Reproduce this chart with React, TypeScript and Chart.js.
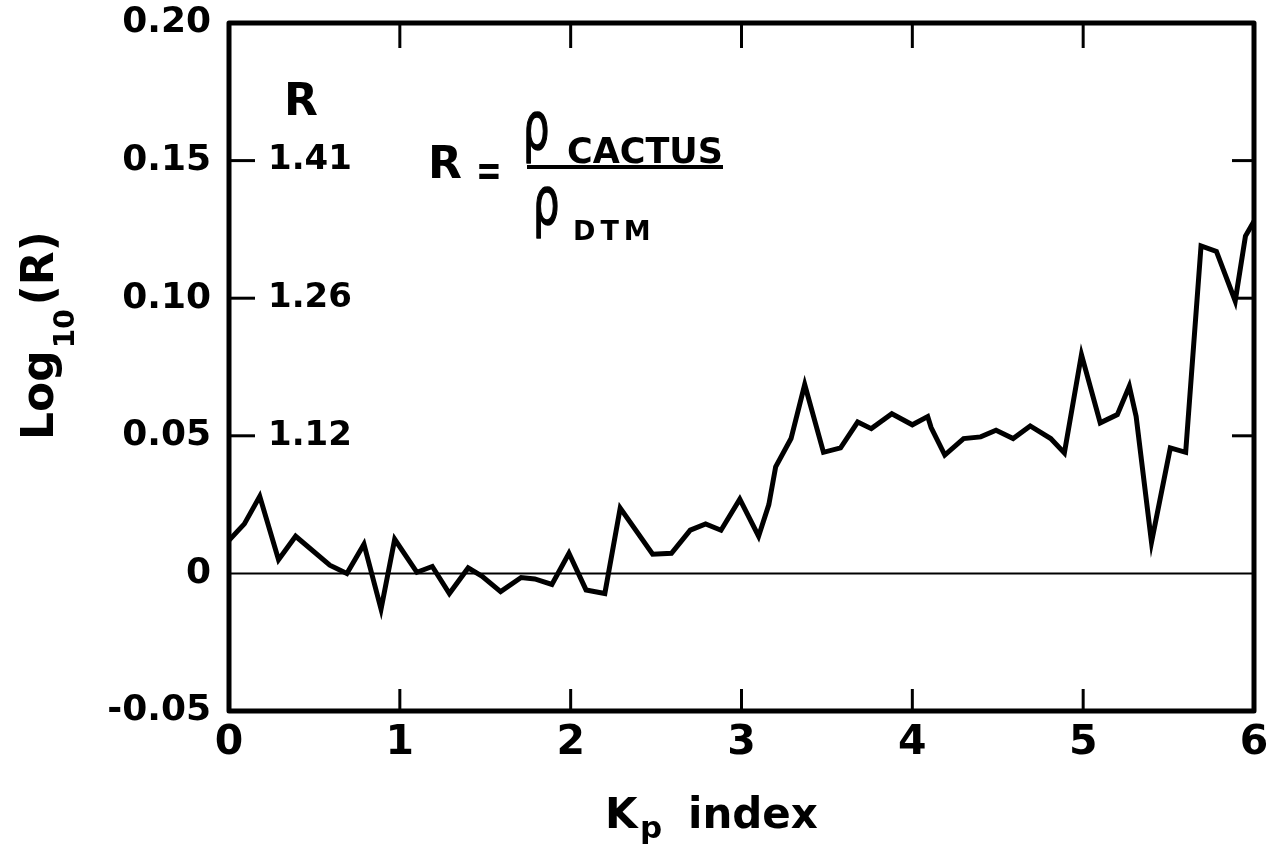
import React, { useEffect, useRef } from "react";
import { Chart, registerables } from "chart.js";

Chart.register(...registerables);

// ---- Data ----
const kpIndex = [
  0.0, 0.09, 0.18, 0.29, 0.39, 0.59, 0.69, 0.79, 0.89, 0.97,
  1.1, 1.19, 1.29, 1.4, 1.48, 1.59, 1.71, 1.79, 1.89, 1.99,
  2.09, 2.2, 2.29, 2.48, 2.59, 2.7, 2.79, 2.88, 2.99, 3.1,
  3.16, 3.2, 3.29, 3.37, 3.48, 3.58, 3.68, 3.76, 3.88, 4.0,
  4.09, 4.11, 4.19, 4.3, 4.4, 4.49, 4.59, 4.69, 4.81, 4.89,
  4.99, 5.1, 5.2, 5.27, 5.31, 5.4, 5.51, 5.6, 5.69, 5.78,
  5.89, 5.95, 6.0,
];
const logR = [
  0.012, 0.018, 0.028, 0.005, 0.0135, 0.003, 0.0, 0.0106, -0.013, 0.0124,
  0.0004, 0.0025, -0.0073, 0.002, -0.001, -0.0066, -0.0015, -0.002, -0.004, 0.0073,
  -0.006, -0.0073, 0.0237, 0.007, 0.0073, 0.0157, 0.018, 0.0157, 0.027, 0.0135,
  0.025, 0.0387, 0.049, 0.0686, 0.044, 0.0456, 0.055, 0.0526, 0.058, 0.054,
  0.057, 0.053, 0.043, 0.049, 0.0496, 0.052, 0.049, 0.0536, 0.049, 0.0438,
  0.0795, 0.0547, 0.0577, 0.068, 0.057, 0.0113, 0.0456, 0.044, 0.119, 0.117,
  0.099, 0.1226, 0.128,
];
const zeroLineKp = [0, 6];
const zeroLineLog = [0, 0];

const xMin = 0;
const xMax = 6;
const yMin = -0.05;
const yMax = 0.2;
const xStep = 1;
const yStep = 0.05;

const innerXTicks = [1, 2, 3, 4, 5];
const innerYTicks = [0.05, 0.1, 0.15];
const rTickValues = [0.15, 0.1, 0.05];
const rTickLabels = ["1.41", "1.26", "1.12"];

const FONT = '"DejaVu Sans", sans-serif';

function fmtY(v: number): string {
  if (Math.abs(v) < 1e-9) return "0";
  return v.toFixed(2);
}

const decorPlugin = {
  id: "decor",
  afterDraw(chart: any) {
    const { ctx, chartArea: a, scales } = chart;
    const xs = scales.x;
    const ys = scales.y;
    const line = (x1: number, y1: number, x2: number, y2: number) => {
      ctx.beginPath();
      ctx.moveTo(x1, y1);
      ctx.lineTo(x2, y2);
      ctx.stroke();
    };
    ctx.save();
    ctx.strokeStyle = "#000";
    ctx.fillStyle = "#000";

    // frame
    ctx.lineWidth = 5;
    ctx.lineJoin = "round";
    ctx.strokeRect(a.left, a.top, a.right - a.left, a.bottom - a.top);

    // inward ticks
    ctx.lineWidth = 3;
    innerXTicks.forEach((v) => {
      const px = xs.getPixelForValue(v);
      line(px, a.bottom, px, a.bottom - 22);
      line(px, a.top, px, a.top + 25);
    });
    innerYTicks.forEach((v) => {
      const py = ys.getPixelForValue(v);
      line(a.left, py, a.left + 26, py);
      line(a.right, py, a.right - 22, py);
    });

    // inner R scale labels
    ctx.font = `bold 34px ${FONT}`;
    ctx.textAlign = "left";
    ctx.textBaseline = "middle";
    rTickValues.forEach((v, i) => {
      ctx.fillText(rTickLabels[i], a.left + 39, ys.getPixelForValue(v));
    });
    ctx.font = `bold 44px ${FONT}`;
    ctx.textAlign = "center";
    ctx.textBaseline = "alphabetic";
    ctx.fillText("R", a.left + 72, ys.getPixelForValue(0.15) - 46);

    // y title: Log10(R)
    ctx.save();
    ctx.translate(53, 440);
    ctx.rotate(-Math.PI / 2);
    ctx.textAlign = "left";
    ctx.textBaseline = "alphabetic";
    ctx.font = `bold 44px ${FONT}`;
    ctx.fillText("Log", 0, 0);
    let w = ctx.measureText("Log").width + 2;
    ctx.font = `bold 28px ${FONT}`;
    ctx.fillText("10", w, 21);
    w += ctx.measureText("10").width + 4;
    ctx.font = `bold 44px ${FONT}`;
    ctx.fillText("(R)", w, 0);
    ctx.restore();

    // x title: Kp index
    ctx.textAlign = "left";
    ctx.textBaseline = "alphabetic";
    ctx.font = `bold 42px ${FONT}`;
    ctx.fillText("K", 605, 828);
    ctx.font = `bold 31px ${FONT}`;
    ctx.fillText("p", 640, 838);
    ctx.font = `bold 42px ${FONT}`;
    ctx.fillText("index", 688, 828);

    // formula R = rho_CACTUS / rho_DTM
    ctx.font = `bold 44px ${FONT}`;
    ctx.fillText("R", 428, 178);
    ctx.save();
    ctx.translate(489, 185);
    ctx.scale(0.7, 1);
    ctx.font = `bold 44px ${FONT}`;
    ctx.textAlign = "center";
    ctx.fillText("=", 0, 0);
    ctx.restore();
    ctx.textAlign = "left";
    ctx.lineWidth = 4;
    line(527, 167, 723, 167);
    const rho = (x: number, y: number) => {
      ctx.save();
      ctx.translate(x, y);
      ctx.scale(0.8, 1.25);
      ctx.font = `52px ${FONT}`;
      ctx.lineWidth = 1.2;
      ctx.fillText("ρ", 0, 0);
      ctx.strokeText("ρ", 0, 0);
      ctx.restore();
    };
    rho(523, 149);
    rho(533, 224);
    ctx.font = `bold 35px ${FONT}`;
    ctx.fillText("CACTUS", 567, 163);
    ctx.font = `bold 27px ${FONT}`;
    (ctx as any).letterSpacing = "5px";
    ctx.fillText("DTM", 573, 240);
    (ctx as any).letterSpacing = "0px";

    ctx.restore();
  },
};

export default function App() {
  const canvasRef = useRef<HTMLCanvasElement | null>(null);

  useEffect(() => {
    document.body.style.margin = "0";
    const canvas = canvasRef.current;
    if (!canvas) return;
    const chart = new Chart(canvas, {
      type: "line",
      data: {
        datasets: [
          {
            label: "zero",
            data: zeroLineKp.map((x, i) => ({ x, y: zeroLineLog[i] })),
            borderColor: "#000",
            borderWidth: 2,
            pointRadius: 0,
            tension: 0,
          },
          {
            label: "log10(R)",
            data: kpIndex.map((x, i) => ({ x, y: logR[i] })),
            borderColor: "#000",
            borderWidth: 5,
            pointRadius: 0,
            tension: 0,
            borderJoinStyle: "miter",
          },
        ],
      },
      options: {
        responsive: false,
        animation: false,
        events: [],
        layout: { padding: { top: 23, right: 13, left: 0, bottom: 0 } },
        plugins: {
          legend: { display: false },
          tooltip: { enabled: false },
          title: { display: false },
        },
        scales: {
          x: {
            type: "linear",
            min: xMin,
            max: xMax,
            grid: { display: false, drawTicks: false },
            border: { display: false },
            ticks: {
              stepSize: xStep,
              color: "#000",
              padding: 8,
              font: { family: FONT, size: 41, weight: "bold" },
              callback: (v: any) => String(v),
            },
            afterFit: (s: any) => {
              s.height = 143;
              s.paddingLeft = 0;
              s.paddingRight = 0;
            },
          },
          y: {
            type: "linear",
            min: yMin,
            max: yMax,
            grid: { display: false, drawTicks: false },
            border: { display: false },
            ticks: {
              stepSize: yStep,
              color: "#000",
              padding: 18,
              font: { family: FONT, size: 36, weight: "bold" },
              callback: (v: any) => fmtY(Number(v)),
            },
            afterFit: (s: any) => {
              s.width = 229;
              s.paddingTop = 0;
              s.paddingBottom = 0;
            },
          },
        },
      },
      plugins: [decorPlugin],
    } as any);
    return () => chart.destroy();
  }, []);

  return (
    <div style={{ position: "absolute", left: 0, top: 0, width: 1267, height: 854, background: "#fff" }}>
      <canvas ref={canvasRef} width={1267} height={854} />
    </div>
  );
}
